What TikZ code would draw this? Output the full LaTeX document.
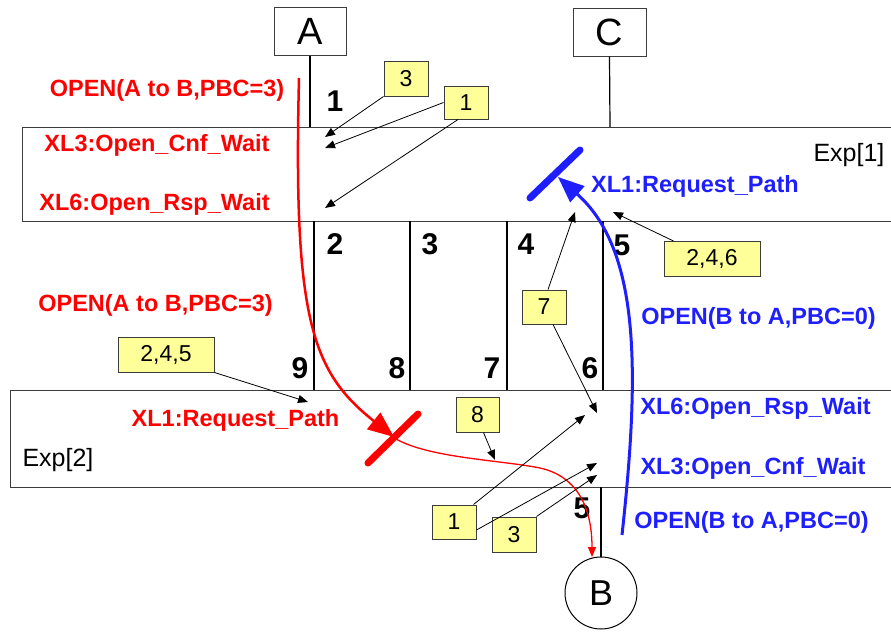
\documentclass[tikz,border=0pt]{standalone}
\usepackage{fontspec}
\setmainfont{Liberation Sans}
\usetikzlibrary{arrows.meta}
\definecolor{myred}{RGB}{255,0,0}
\definecolor{myblue}{RGB}{30,30,255}
\definecolor{yfill}{RGB}{255,255,153}
\definecolor{edge}{RGB}{60,60,60}
\begin{document}
\begin{tikzpicture}[x=1pt,y=-1pt,
  lbl/.style={inner sep=0pt, font=\fontsize{23.5}{28}\selectfont\bfseries},
  rlbl/.style={lbl,text=myred},
  blbl/.style={lbl,text=myblue},
  num/.style={inner sep=0pt, font=\fontsize{30}{34}\selectfont\bfseries},
  ybox/.style={draw=edge, fill=yfill, line width=1pt, inner sep=0pt, minimum height=35pt, font=\fontsize{23}{27}\selectfont},
  ptr/.style={-{Triangle[length=10pt,width=8pt]}, line width=0.8pt, black},
  ent/.style={draw=edge, line width=1pt, inner sep=0pt, minimum height=48pt, font=\fontsize{38}{40}\selectfont},
  expbox/.style={draw=edge, line width=1pt, inner sep=0pt, anchor=north west},
  wire/.style={line width=1.2pt, black}
]
\useasboundingbox (0,0) rectangle (891,632);

% exp boxes
\node[expbox, minimum width=870pt, minimum height=94pt] (exp1) at (22,127) {};
\node[expbox, minimum width=882pt, minimum height=97pt] (exp2) at (10,390) {};
\node[inner sep=0pt, font=\fontsize{25}{28}\selectfont] (e1) at (849,155) {Exp[1]};
\node[inner sep=0pt, font=\fontsize{25}{28}\selectfont] (e2) at (58,460) {Exp[2]};

% entities
\node[ent, minimum width=72pt] (A) at (310,31) {A};
\node[ent, minimum width=73pt] (C) at (609.5,32) {C};
\node[draw=black, line width=1pt, circle, minimum size=72pt, inner sep=0pt, font=\fontsize{36}{38}\selectfont] (B) at (601,593) {B};

\draw[wire] (A.south) -- (310,127);
\draw[wire] (C.south) -- (610,127);
\draw[wire] (601,487) -- (B.north);
\foreach \x in {314,410,507,603} \draw[wire] (\x,221) -- (\x,390);

% numbers
\node[num] (n1) at (335,101) {1};
\node[num] (n2) at (335,244) {2};
\node[num] (n3) at (430,244) {3};
\node[num] (n4) at (526,244) {4};
\node[num] (n5) at (622,245) {5};
\node[num] (n9) at (300,368) {9};
\node[num] (n8) at (397,368) {8};
\node[num] (n7) at (492,368) {7};
\node[num] (n6) at (590,368) {6};
\node[num] (n5b) at (582,508) {5};

% red labels
\node[rlbl] (ro1) at (167,90) {OPEN(A to B,PBC=3)};
\node[rlbl] (rx3) at (157,145) {XL3:Open\_Cnf\_Wait};
\node[rlbl] (rx6) at (154.5,204) {XL6:Open\_Rsp\_Wait};
\node[rlbl] (ro2) at (155.5,305) {OPEN(A to B,PBC=3)};
\node[rlbl] (rx1) at (235.5,420) {XL1:Request\_Path};
% blue labels
\node[blbl] (bx1) at (695,186) {XL1:Request\_Path};
\node[blbl] (bo1) at (758.5,318) {OPEN(B to A,PBC=0)};
\node[blbl] (bx6) at (755.5,408) {XL6:Open\_Rsp\_Wait};
\node[blbl] (bx3) at (753,468) {XL3:Open\_Cnf\_Wait};
\node[blbl] (bo2) at (751.5,522) {OPEN(B to A,PBC=0)};

% red path
\draw[myred, line width=2.5pt, -{Triangle[length=26pt,width=21pt]}] (299,78) .. controls (293,320) and (312,372) .. (394,437);
\draw[myred, line width=1.3pt, -{Triangle[length=10pt,width=8pt]}] (396,439) .. controls (430,458) and (500,460) .. (540,468) .. controls (585,478) and (592,520) .. (592,557);
\draw[myred, line width=7pt, line cap=round] (368,463) -- (418,414);

% blue path
\draw[myblue, line width=3pt, -{Triangle[length=26pt,width=21pt]}] (622,535) .. controls (640,370) and (640,250) .. (558,177);
\draw[myblue, line width=7pt, line cap=round] (530,198) -- (580,150);

% target points
\coordinate (t1) at (325,137);
\coordinate (t2) at (325,148);
\coordinate (t3) at (325,208);
\coordinate (t4) at (575,212);
\coordinate (t5) at (613,212);
\coordinate (t6) at (597,413);
\coordinate (t7) at (308,402);
\coordinate (t8) at (495,460);
\coordinate (t9) at (585,415);
\coordinate (t10) at (597,463);
\coordinate (t11) at (597,475);

% yellow boxes
\node[ybox, minimum width=44pt] (y3a) at (406,78.5) {3};
\node[ybox, minimum width=44pt, minimum height=33pt] (y1a) at (466,102.5) {1};
\node[ybox, minimum width=96pt] (y246) at (712,259) {2,4,6};
\node[ybox, minimum width=44pt, minimum height=34pt] (y7) at (544,307) {7};
\node[ybox, minimum width=96pt] (y245) at (166,354.5) {2,4,5};
\node[ybox, minimum width=43pt] (y8) at (477.5,414.5) {8};
\node[ybox, minimum width=44pt, minimum height=34pt] (y1b) at (454,522) {1};
\node[ybox, minimum width=44pt] (y3b) at (514,534.5) {3};

% pointers
\draw[ptr] (y3a.south west) -- (t1);
\draw[ptr] (y1a.west) -- (t2);
\draw[ptr] ([xshift=-8pt]y1a.south) -- (t3);
\draw[ptr] ([xshift=4pt]y7.north) -- (t4);
\draw[ptr] ([xshift=9pt]y7.south) -- (t6);
\draw[ptr] ([xshift=10pt]y246.north west) -- (t5);
\draw[ptr] (y245.south east) -- (t7);
\draw[ptr] ([xshift=6pt]y8.south) -- (t8);
\draw[ptr] ([xshift=-3pt]y1b.north east) -- (t9);
\draw[ptr] ([yshift=-8pt]y1b.east) -- (t10);
\draw[ptr] (y3b.north east) -- (t11);
\end{tikzpicture}
\end{document}
